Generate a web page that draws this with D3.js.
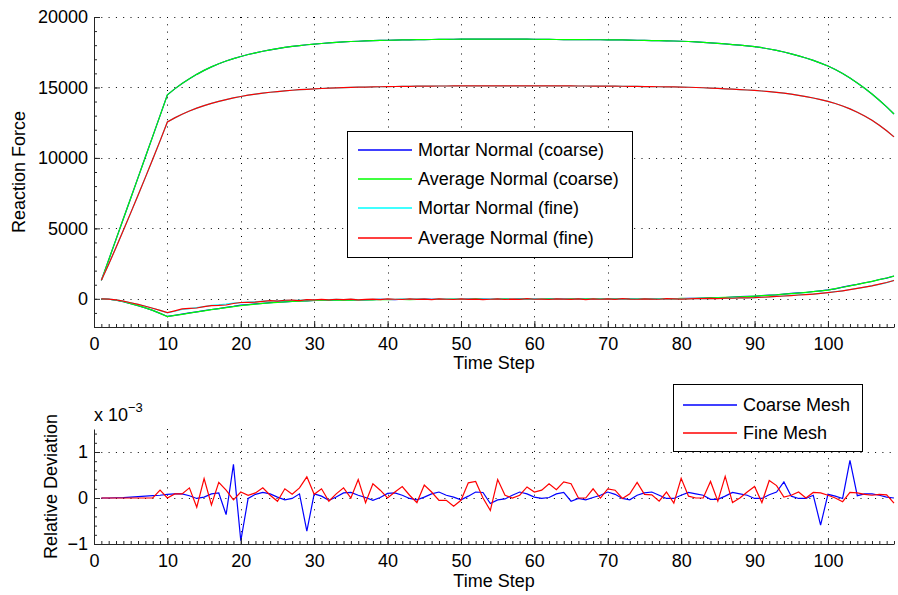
<!DOCTYPE html>
<html><head><meta charset="utf-8">
<script src="https://cdn.jsdelivr.net/npm/d3@7"></script>
<style>
body{margin:0;background:#fff}
text{font-family:"Liberation Sans",Arial,Helvetica,sans-serif;fill:#000}
</style>
</head><body>
<svg id="chart" width="898" height="595"></svg>
<script>
// ---------------- DATA ----------------
const timeSteps = d3.range(1, 110); // time steps 1..109

// upper branch of each curve (normal component), Reaction Force
const avgCoarseUpper = [1310,2760,4220,5680,7140,8600,10060,11530,13000,14480,
14900,15280,15620,15930,16210,16460,16680,16880,17050,17200,
17340,17460,17570,17670,17760,17840,17910,17970,18030,18080,
18120,18160,18200,18230,18260,18280,18300,18320,18340,18350,
18360,18370,18380,18390,18400,18405,18410,18415,18420,18425,
18430,18430,18435,18435,18435,18435,18430,18430,18425,18420,
18415,18410,18405,18400,18395,18392,18390,18387,18384,18380,
18375,18370,18360,18350,18340,18330,18320,18305,18295,18280,
18260,18235,18205,18170,18130,18090,18045,18000,17950,17900,
17820,17730,17630,17515,17385,17245,17090,16920,16730,16520,
16280,15990,15670,15320,14940,14530,14090,13620,13120];
const mortarCoarseUpper = [1310,2760,4220,5680,7140,8600,10060,11530,13000,14480,
14900,15280,15620,15930,16210,16460,16680,16880,17050,17200,
17340,17460,17570,17670,17760,17840,17910,17970,18030,18080,
18120,18160,18200,18230,18260,18280,18300,18320,18340,18350,
18360,18370,18380,18390,18400,18405,18410,18415,18420,18425,
18430,18430,18435,18435,18435,18435,18430,18430,18425,18420,
18415,18410,18405,18400,18395,18392,18390,18387,18384,18380,
18375,18370,18360,18350,18340,18330,18320,18305,18295,18280,
18260,18235,18205,18170,18130,18090,18045,18000,17950,17900,
17820,17730,17630,17515,17385,17245,17090,16920,16730,16520,
16280,15990,15670,15320,14940,14530,14090,13620,13120];
const avgFineUpper = [1310,2450,3640,4860,6100,7350,8620,9900,11210,12550,
12840,13100,13330,13530,13710,13870,14010,14140,14260,14360,
14450,14530,14600,14660,14710,14760,14800,14840,14870,14900,
14925,14950,14970,14990,15005,15020,15030,15040,15050,15060,
15068,15075,15082,15088,15094,15098,15102,15105,15108,15110,
15112,15114,15115,15116,15117,15118,15118,15118,15117,15116,
15114,15112,15110,15108,15106,15104,15102,15100,15098,15095,
15090,15085,15079,15072,15065,15058,15050,15042,15036,15030,
15015,14998,14978,14955,14930,14905,14878,14850,14820,14790,
14750,14705,14655,14600,14520,14440,14350,14250,14135,14010,
13860,13685,13480,13245,12975,12670,12320,11925,11490];
const mortarFineUpper = [1310,2450,3640,4860,6100,7350,8620,9900,11210,12550,
12840,13100,13330,13530,13710,13870,14010,14140,14260,14360,
14450,14530,14600,14660,14710,14760,14800,14840,14870,14900,
14925,14950,14970,14990,15005,15020,15030,15040,15050,15060,
15068,15075,15082,15088,15094,15098,15102,15105,15108,15110,
15112,15114,15115,15116,15117,15118,15118,15118,15117,15116,
15114,15112,15110,15108,15106,15104,15102,15100,15098,15095,
15090,15085,15079,15072,15065,15058,15050,15042,15036,15030,
15015,14998,14978,14955,14930,14905,14878,14850,14820,14790,
14750,14705,14655,14600,14520,14440,14350,14250,14135,14010,
13860,13685,13480,13245,12975,12670,12320,11925,11490];

// lower branch of each curve (tangential component)
const avgCoarseLower = [0,-30,-100,-210,-340,-480,-640,-820,-1030,-1260,
-1180,-1100,-1010,-930,-850,-770,-700,-630,-560,-480,
-430,-380,-330,-290,-250,-220,-190,-170,-150,-120,
-110,-100,-90,-80,-90,-70,-60,-70,-50,-60,
-50,-40,-60,-40,-30,-50,-30,-40,-20,-40,
-30,-10,-30,-50,-20,-10,-40,-20,-10,-30,
-20,0,-20,-30,-10,-20,-10,10,-10,-20,
0,-10,-20,10,0,-10,20,10,0,30,
20,40,50,60,80,100,120,140,160,190,
220,250,290,330,370,410,460,510,560,620,
720,820,920,1030,1130,1240,1360,1480,1610];
const mortarCoarseLower = [0,-30,-100,-210,-340,-480,-640,-820,-1030,-1250,
-1170,-1090,-1000,-920,-840,-760,-690,-610,-540,-450,
-410,-360,-320,-270,-240,-210,-180,-150,-140,-110,
-100,-110,-80,-70,-80,-60,-70,-60,-40,-50,
-60,-30,-50,-40,-20,-40,-30,-30,-30,-30,
-20,-20,-20,-40,-30,-20,-30,-10,-20,-20,
-30,-10,-10,-20,-20,-10,-20,0,-20,-10,
-10,0,-10,0,10,0,10,20,10,20,
30,30,50,70,70,90,130,150,170,180,
230,260,280,340,380,420,450,520,570,630,
710,830,930,1020,1140,1230,1370,1470,1620];
const avgFineLower = [0,-20,-80,-170,-280,-400,-530,-670,-820,-980,
-850,-720,-680,-650,-560,-480,-470,-440,-330,-260,
-250,-230,-180,-130,-160,-100,-90,-130,-60,-80,
-40,-70,-30,-60,-20,-80,-40,-20,-60,-10,
-30,-50,0,-40,-20,-60,-10,-30,-50,0,
-40,-20,-60,-30,0,-50,-20,-40,10,-30,
-20,-50,0,-20,-40,-10,-50,0,-30,-10,
-40,10,-20,-30,0,-20,-30,10,-10,-20,
0,20,10,30,20,50,40,60,70,80,
110,140,170,200,230,270,300,340,390,440,
500,570,650,740,830,920,1040,1160,1300];
const mortarFineLower = [0,-20,-80,-170,-280,-400,-530,-670,-820,-990,
-880,-760,-690,-620,-550,-470,-420,-370,-300,-270,
-240,-210,-170,-150,-140,-110,-100,-100,-70,-80,
-50,-60,-40,-50,-30,-60,-50,-30,-40,-20,
-40,-30,-10,-30,-30,-40,-20,-30,-30,-10,
-30,-30,-40,-20,-10,-30,-30,-20,-10,-20,
-30,-30,-10,-20,-30,-20,-30,-10,-20,-20,
-20,0,-20,-10,-10,-10,-10,0,0,-10,
10,10,20,20,30,40,50,60,70,90,
110,130,170,200,240,270,310,340,390,440,
510,570,660,740,830,930,1030,1150,1310];

// relative deviation (units of 1e-3)
const devCoarse = [0,0,0.005,0.01,0.02,0.03,0.04,0.05,0.06,0.08,
0.09,0.09,0.05,-0.01,0.02,0.09,0.11,-0.36,0.73,-0.93,
-0.01,0.08,0.12,0.09,0.02,-0.04,-0.01,0.09,-0.72,0.09,
0.04,-0.05,0.02,0.11,0.12,0.06,0.01,-0.05,0.01,0.1,
0.11,0.06,-0.01,-0.04,0.02,0.09,0.13,0.06,0.02,-0.04,
0.04,0.13,0.12,-0.12,-0.04,-0.02,0.06,0.13,0.09,0.02,
-0.01,0.01,0.09,0.12,-0.07,-0.01,-0.04,0.01,0.06,0.13,
0.08,-0.01,-0.04,0.06,0.11,0.13,0.06,-0.01,-0.01,0.06,
0.12,0.09,0.06,-0.03,-0.03,0.04,0.12,0.09,0.06,-0.01,
-0.01,0.07,0.13,0.35,0.04,-0.01,-0.01,0.06,-0.59,0.08,
0.04,-0.01,0.82,0.05,0.09,0.09,0.06,0.02,0.0];
const devFine = [0,0,0,0,0,0,0,0,0.17,0.0,
0.09,0.09,0.22,-0.2,0.42,-0.15,0.34,0.17,-0.04,0.13,
0.06,0.11,0.22,0.06,-0.07,0.2,0.08,0.22,0.46,0.08,
0.2,-0.07,0.09,0.22,0.0,0.4,-0.1,0.31,0.17,0.0,
0.13,0.25,0.06,-0.1,0.28,0.13,-0.05,-0.05,-0.18,-0.05,
0.33,0.36,0.0,-0.27,0.4,0.06,0.0,0.06,0.24,0.13,
0.17,0.31,0.18,0.35,0.31,0.0,0.0,0.2,0.0,0.2,
0.17,-0.01,0.09,0.34,0.08,0.07,-0.07,0.13,-0.11,0.43,
0.04,0.0,0.0,0.36,-0.07,0.47,-0.1,0.0,0.13,0.25,
-0.1,0.38,0.27,0.02,0.06,0.13,0.0,0.12,0.11,0.06,
0.0,-0.08,0.12,0.11,0.08,0.06,0.08,0.07,-0.11];

const xTicks = [0,10,20,30,40,50,60,70,80,90,100];
const topYTicks = [0,5000,10000,15000,20000];
const botYTicks = [-1,0,1];
const topSeries = [
  {name:"Mortar Normal (coarse)",  color:"#0000ff", upper:mortarCoarseUpper, lower:mortarCoarseLower},
  {name:"Average Normal (coarse)", color:"#00ff00", upper:avgCoarseUpper,    lower:avgCoarseLower},
  {name:"Mortar Normal (fine)",    color:"#00ffff", upper:mortarFineUpper,   lower:mortarFineLower},
  {name:"Average Normal (fine)",   color:"#ff0000", upper:avgFineUpper,      lower:avgFineLower}
];
const botSeries = [
  {name:"Coarse Mesh", color:"#0000ff", values:devCoarse},
  {name:"Fine Mesh",   color:"#ff0000", values:devFine}
];

// ---------------- LAYOUT ----------------
const svg = d3.select("#chart");
const FS = 18;
const L = 94, R = 894;
const topBox = {t:17, b:327}, botBox = {t:429, b:544};

const x = d3.scaleLinear().domain([0,109]).range([L,R]);
const yTop = d3.scaleLinear().domain([-2000,20000]).range([topBox.b, topBox.t]);
const yBot = d3.scaleLinear().domain([-1,1.5]).range([botBox.b, botBox.t]);

function grid(yScale, yTicks, box){
  const gg = svg.append("g").attr("stroke","#000").attr("stroke-width",1)
     .attr("stroke-dasharray","1,6.3").attr("fill","none");
  xTicks.filter(d=>d>0).forEach(d=>{
    gg.append("line").attr("x1",Math.round(x(d))+0.5).attr("x2",Math.round(x(d))+0.5)
      .attr("y1",box.t).attr("y2",box.b);
  });
  yTicks.forEach(d=>{
    const yy = Math.round(yScale(d))+0.5;
    if (Math.abs(yy-box.b)<2) return;
    gg.append("line").attr("x1",L).attr("x2",R).attr("y1",yy).attr("y2",yy);
  });
}
grid(yTop, topYTicks, topBox);
grid(yBot, botYTicks, botBox);

function axes(yScale, yTicks, yMinor, box, fmt){
  const xm = svg.append("g").attr("transform",`translate(0,${box.b})`)
    .call(d3.axisBottom(x).tickValues(d3.range(0,110,1)).tickSize(-3).tickSizeOuter(0).tickFormat(""));
  xm.select(".domain").remove();
  const ym = svg.append("g").attr("transform",`translate(${L},0)`)
    .call(d3.axisLeft(yScale).tickValues(yMinor).tickSize(-3).tickSizeOuter(0).tickFormat(""));
  ym.select(".domain").remove();
  const xa = svg.append("g").attr("transform",`translate(0,${box.b})`)
    .call(d3.axisBottom(x).tickValues(xTicks).tickSize(-6).tickSizeOuter(0).tickPadding(10));
  const ya = svg.append("g").attr("transform",`translate(${L},0)`)
    .call(d3.axisLeft(yScale).tickValues(yTicks).tickSize(-6).tickSizeOuter(0).tickPadding(6).tickFormat(fmt));
  [xa,ya,xm,ym].forEach(a=>{
    a.selectAll("line").attr("stroke","#262626");
    a.selectAll(".domain").attr("stroke","#262626");
    a.selectAll("text").attr("font-size",FS).attr("font-family","Liberation Sans, Arial, sans-serif").attr("fill","#000");
  });
}

// ---------- TOP PLOT LINES ----------
const lineTop = arr => d3.line().x((d,i)=>x(timeSteps[i])).y(d=>yTop(d))(arr);
const gTop = svg.append("g").attr("fill","none").attr("stroke-width",1.2);
topSeries.forEach(s=>{
  gTop.append("path").attr("d",lineTop(s.upper)).attr("stroke",s.color);
  gTop.append("path").attr("d",lineTop(s.lower)).attr("stroke",s.color);
});
axes(yTop, topYTicks, d3.range(-2000,20001,1000), topBox, d3.format("d"));

// ---------- BOTTOM PLOT LINES ----------
const lineBot = arr => d3.line().x((d,i)=>x(timeSteps[i])).y(d=>yBot(d))(arr);
const gBot = svg.append("g").attr("fill","none").attr("stroke-width",1.2);
botSeries.forEach(s=>{
  gBot.append("path").attr("d",lineBot(s.values)).attr("stroke",s.color);
});
axes(yBot, botYTicks, d3.range(-1,1.51,0.2).map(v=>+v.toFixed(2)), botBox, d=> d<0 ? "\u2212"+Math.abs(d) : String(d));

// ---------- LABELS ----------
svg.append("text").attr("x",(L+R)/2).attr("y",369).attr("text-anchor","middle").attr("font-size",FS).text("Time Step");
svg.append("text").attr("x",(L+R)/2).attr("y",587).attr("text-anchor","middle").attr("font-size",FS).text("Time Step");
svg.append("text").attr("transform",`translate(25,${(topBox.t+topBox.b)/2}) rotate(-90)`).attr("text-anchor","middle").attr("font-size",FS).text("Reaction Force");
svg.append("text").attr("transform",`translate(57,${(botBox.t+botBox.b)/2}) rotate(-90)`).attr("text-anchor","middle").attr("font-size",FS).text("Relative Deviation");
const ex = svg.append("text").attr("x",L).attr("y",421).attr("font-size",FS);
ex.append("tspan").text("x 10");
ex.append("tspan").attr("font-size",13).attr("dy",-9).text("\u22123");

// ---------- LEGENDS ----------
function legend(series, bx, by, bw, bh, rowYs, lx1, lx2, tx){
  const g = svg.append("g");
  g.append("rect").attr("x",bx+0.5).attr("y",by+0.5).attr("width",bw).attr("height",bh)
    .attr("fill","#fff").attr("stroke","#000").attr("stroke-width",1);
  series.forEach((s,i)=>{
    g.append("path").attr("d",`M${lx1},${rowYs[i]}H${lx2}`)
      .attr("fill","none").attr("stroke",s.color).attr("stroke-width",1.6);
    g.append("text").attr("x",tx).attr("y",rowYs[i]).attr("dy","0.35em").attr("font-size",FS).text(s.name);
  });
}
legend(topSeries, 347, 131, 285, 126, [150,179,208,238], 358, 412, 418);
legend(botSeries, 673, 384, 189, 67, [405,433], 683, 737, 743);
</script>
</body></html>
